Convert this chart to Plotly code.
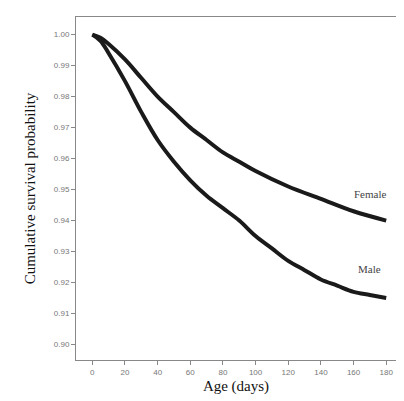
import plotly.graph_objects as go

female_age = [0, 5, 10, 20, 30, 40, 50, 60, 70, 80, 90, 100, 120, 140, 160, 180]
female_surv = [1.0, 0.999, 0.997, 0.992, 0.986, 0.980, 0.975, 0.970, 0.966, 0.962, 0.959, 0.956, 0.951, 0.947, 0.943, 0.940]
male_age = [0, 5, 10, 20, 30, 40, 50, 60, 70, 80, 90, 100, 110, 120, 130, 140, 150, 160, 170, 180]
male_surv = [1.0, 0.998, 0.994, 0.985, 0.975, 0.966, 0.959, 0.953, 0.948, 0.944, 0.940, 0.935, 0.931, 0.927, 0.924, 0.921, 0.919, 0.917, 0.916, 0.915]

fig = go.Figure()
for x, y in [(female_age, female_surv), (male_age, male_surv)]:
    fig.add_trace(go.Scatter(x=x, y=y, mode="lines", line=dict(color="#1a1a1a", width=4, shape="spline"),
                             showlegend=False))

fig.add_annotation(x=170, y=0.9485, text="Female", showarrow=False,
                   font=dict(family="Liberation Serif", size=11, color="#444"))
fig.add_annotation(x=170, y=0.9245, text="Male", showarrow=False,
                   font=dict(family="Liberation Serif", size=11, color="#444"))

tick_font = dict(family="Liberation Sans", size=8, color="#777")
fig.update_layout(
    width=390, height=390, margin=dict(l=68, r=2, t=9, b=38),
    plot_bgcolor="white", paper_bgcolor="white",
    xaxis=dict(range=[-10, 186], tickvals=list(range(0, 181, 20)), ticks="outside", ticklen=4,
               tickcolor="#888", tickfont=tick_font, showgrid=False, zeroline=False,
               showline=True, linecolor="#888", mirror=True,
               title=dict(text="Age (days)", standoff=4,
                          font=dict(family="Liberation Serif", size=15, color="#111"))),
    yaxis=dict(range=[0.895, 1.0057], tickvals=[0.90 + 0.01 * i for i in range(11)],
               tickformat=".2f", ticks="outside", ticklen=4, tickcolor="#888", tickfont=tick_font,
               showgrid=False, zeroline=False, showline=True, linecolor="#888", mirror=True,
               title=dict(text="Cumulative survival probability", standoff=14,
                          font=dict(family="Liberation Serif", size=15, color="#111"))),
)
fig.write_html("out.html")
